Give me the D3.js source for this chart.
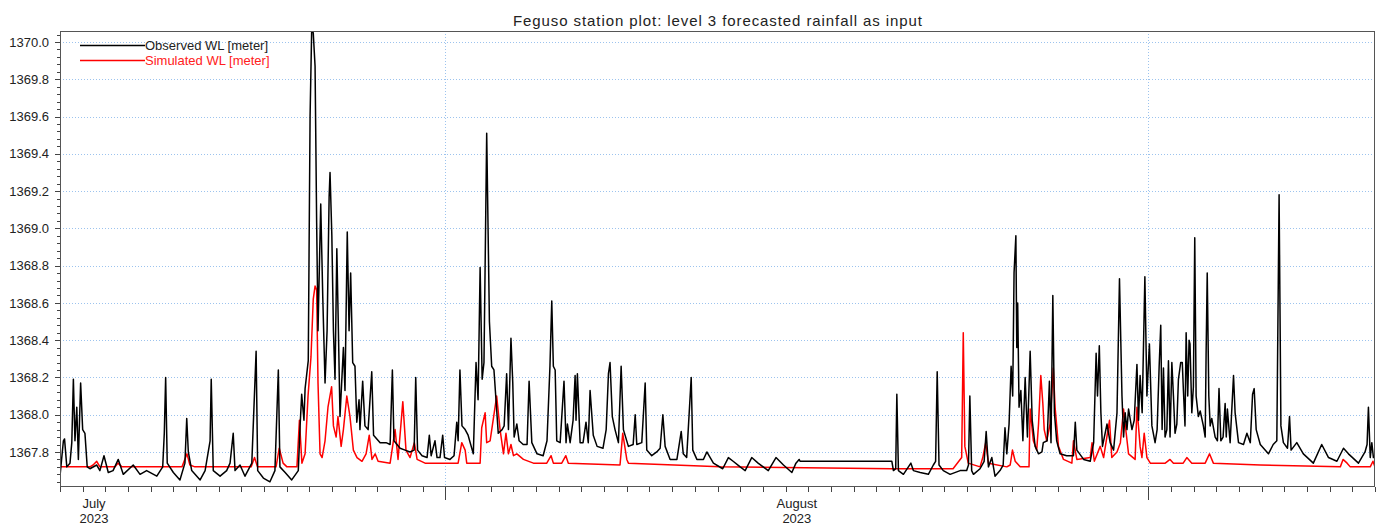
<!DOCTYPE html>
<html lang="en">
<head>
<meta charset="utf-8">
<title>Feguso station plot</title>
<style>
    body { margin: 0; background: #fff; }
    svg { display: block; font-family: "Liberation Sans", Arial, sans-serif; }
    .axis text { font-size: 13px; fill: #222; }
    .axis path { display: none; }
    .axis line { stroke: #444; shape-rendering: crispEdges; }
    .grid line { stroke: #9cc3ee; stroke-dasharray: 1,2; shape-rendering: crispEdges; }
</style>
</head>
<body>
<script src="https://cdn.jsdelivr.net/npm/d3@7"></script>
<script>

  const title = "Feguso station plot: level 3 forecasted rainfall as input";
  const seriesNames = ["Observed WL [meter]", "Simulated WL [meter]"];

  // time axis: days counted from 15 July 2023
  const startDay = Date.UTC(2023, 6, 15);
  const endDay = Date.UTC(2023, 8, 11);
  const monthStarts = [Date.UTC(2023, 7, 1), Date.UTC(2023, 8, 1)];
  const monthLabels = [
      {mid: Date.UTC(2023, 6, 16, 12), name: "July", year: "2023"},
      {mid: Date.UTC(2023, 7, 16, 12), name: "August", year: "2023"}
  ];
  const yTicks = [1367.8, 1368.0, 1368.2, 1368.4, 1368.6, 1368.8,
                  1369.0, 1369.2, 1369.4, 1369.6, 1369.8, 1370.0];
  const yDomain = [1367.612, 1370.059];

  // [day since 15 July, water level in m]
  const observed = [
      [0.00, 1367.67], [0.15, 1367.86], [0.20, 1367.87], [0.30, 1367.72], [0.44, 1367.74],
      [0.52, 1367.85], [0.59, 1368.19], [0.66, 1367.86], [0.74, 1368.04], [0.81, 1367.76],
      [0.91, 1368.17], [1.00, 1367.92], [1.10, 1367.90], [1.20, 1367.72], [1.32, 1367.71],
      [1.62, 1367.73], [1.76, 1367.70], [1.94, 1367.78], [2.13, 1367.69], [2.34, 1367.70],
      [2.57, 1367.76], [2.79, 1367.68], [3.23, 1367.73], [3.53, 1367.68], [3.82, 1367.70],
      [4.27, 1367.67], [4.53, 1367.72], [4.60, 1367.90], [4.66, 1368.20], [4.73, 1367.74],
      [5.00, 1367.69], [5.29, 1367.65], [5.51, 1367.74], [5.59, 1367.98], [5.66, 1367.80],
      [5.81, 1367.70], [6.18, 1367.65], [6.40, 1367.70], [6.62, 1367.86], [6.67, 1368.19],
      [6.76, 1367.70], [7.06, 1367.67], [7.35, 1367.70], [7.50, 1367.74], [7.64, 1367.90],
      [7.72, 1367.70], [7.94, 1367.73], [8.16, 1367.67], [8.46, 1367.74], [8.65, 1368.34],
      [8.72, 1367.70], [8.97, 1367.66], [9.26, 1367.64], [9.48, 1367.70], [9.63, 1368.24],
      [9.70, 1367.72], [9.93, 1367.69], [10.22, 1367.65], [10.51, 1367.70], [10.59, 1367.94],
      [10.66, 1368.11], [10.76, 1367.97], [10.81, 1368.14], [10.95, 1368.29], [11.03, 1369.60],
      [11.10, 1370.06], [11.17, 1370.05], [11.25, 1369.87], [11.32, 1369.03], [11.38, 1368.45],
      [11.50, 1369.13], [11.59, 1368.63], [11.69, 1368.17], [11.78, 1368.45], [11.87, 1369.17],
      [11.91, 1369.30], [11.99, 1368.96], [12.06, 1368.45], [12.13, 1368.19], [12.21, 1368.89],
      [12.28, 1368.45], [12.35, 1367.99], [12.50, 1368.36], [12.57, 1368.13], [12.67, 1368.98],
      [12.75, 1368.45], [12.82, 1368.76], [12.91, 1368.28], [13.01, 1368.26], [13.09, 1367.96],
      [13.19, 1368.08], [13.23, 1367.92], [13.35, 1368.18], [13.45, 1367.94], [13.59, 1367.92],
      [13.75, 1368.23], [13.83, 1367.89], [14.12, 1367.85], [14.38, 1367.85], [14.56, 1367.84],
      [14.66, 1368.24], [14.73, 1367.86], [15.00, 1367.82], [15.22, 1367.81], [15.44, 1367.80],
      [15.62, 1367.81], [15.69, 1368.20], [15.77, 1367.81], [15.97, 1367.78], [16.19, 1367.77],
      [16.29, 1367.89], [16.37, 1367.78], [16.54, 1367.86], [16.63, 1367.77], [16.76, 1367.77],
      [16.88, 1367.89], [16.96, 1367.77], [17.20, 1367.76], [17.38, 1367.78], [17.50, 1367.96],
      [17.56, 1367.86], [17.64, 1368.24], [17.73, 1367.94], [17.87, 1367.92], [18.00, 1367.89],
      [18.23, 1367.79], [18.35, 1368.28], [18.44, 1368.08], [18.53, 1368.79], [18.62, 1368.19],
      [18.70, 1368.28], [18.82, 1369.51], [18.94, 1368.50], [19.04, 1368.26], [19.14, 1368.24],
      [19.23, 1368.08], [19.33, 1367.90], [19.50, 1367.92], [19.59, 1367.94], [19.70, 1368.22],
      [19.78, 1367.92], [19.89, 1368.41], [19.97, 1368.17], [20.03, 1367.88], [20.15, 1367.95],
      [20.25, 1367.86], [20.43, 1367.84], [20.60, 1367.84], [20.69, 1368.18], [20.81, 1367.85],
      [21.04, 1367.79], [21.31, 1367.78], [21.48, 1367.86], [21.61, 1368.26], [21.69, 1368.61],
      [21.76, 1368.26], [21.84, 1368.24], [21.91, 1367.86], [22.06, 1367.85], [22.23, 1368.18],
      [22.32, 1367.85], [22.38, 1367.95], [22.50, 1367.85], [22.63, 1367.97], [22.72, 1368.21],
      [22.76, 1367.97], [22.82, 1368.22], [22.94, 1367.85], [23.07, 1367.85], [23.20, 1367.96],
      [23.30, 1367.85], [23.38, 1368.13], [23.52, 1367.89], [23.69, 1367.83], [23.95, 1367.82],
      [24.09, 1367.92], [24.19, 1368.22], [24.26, 1368.28], [24.36, 1367.99], [24.48, 1367.92],
      [24.63, 1367.85], [24.75, 1368.26], [24.85, 1367.92], [25.07, 1367.83], [25.28, 1367.84],
      [25.37, 1368.00], [25.44, 1367.84], [25.66, 1367.85], [25.81, 1368.17], [25.88, 1367.81],
      [26.10, 1367.78], [26.32, 1367.80], [26.47, 1367.82], [26.59, 1368.00], [26.69, 1367.83],
      [26.91, 1367.76], [27.21, 1367.76], [27.40, 1367.91], [27.49, 1367.79], [27.64, 1367.77],
      [27.84, 1368.20], [27.91, 1367.81], [28.09, 1367.76], [28.38, 1367.76], [28.53, 1367.80],
      [28.82, 1367.74], [29.23, 1367.71], [29.48, 1367.77], [29.69, 1367.75], [30.00, 1367.72],
      [30.22, 1367.70], [30.51, 1367.77], [30.79, 1367.74], [31.24, 1367.70], [31.58, 1367.77],
      [31.91, 1367.73], [32.28, 1367.69], [32.46, 1367.74], [32.60, 1367.76], [32.64, 1367.75],
      [36.69, 1367.75], [36.76, 1367.70], [36.86, 1367.71], [36.91, 1368.11], [36.98, 1367.70],
      [37.20, 1367.68], [37.53, 1367.74], [37.64, 1367.70], [37.94, 1367.69], [38.30, 1367.68],
      [38.52, 1367.73], [38.62, 1367.75], [38.69, 1368.23], [38.77, 1367.73], [38.96, 1367.70],
      [39.26, 1367.68], [39.70, 1367.70], [39.99, 1367.70], [40.07, 1367.73], [40.13, 1368.10],
      [40.21, 1367.70], [40.29, 1367.68], [40.58, 1367.71], [40.76, 1367.75], [40.85, 1367.91],
      [40.95, 1367.72], [41.10, 1367.77], [41.24, 1367.67], [41.46, 1367.70], [41.60, 1367.73],
      [41.68, 1367.93], [41.76, 1367.79], [41.86, 1367.95], [41.95, 1368.26], [42.02, 1368.10],
      [42.08, 1368.76], [42.16, 1368.96], [42.20, 1368.36], [42.24, 1368.60], [42.30, 1368.04],
      [42.38, 1368.13], [42.47, 1367.86], [42.57, 1368.20], [42.67, 1367.88], [42.79, 1368.34],
      [42.88, 1367.97], [43.01, 1367.83], [43.16, 1367.79], [43.31, 1367.80], [43.37, 1367.85],
      [43.54, 1367.86], [43.64, 1368.18], [43.71, 1367.85], [43.79, 1368.64], [43.86, 1368.01],
      [43.96, 1367.86], [44.11, 1367.79], [44.40, 1367.78], [44.70, 1367.78], [44.78, 1367.96],
      [44.85, 1367.81], [45.15, 1367.76], [45.44, 1367.75], [45.59, 1367.85], [45.70, 1368.33],
      [45.76, 1368.10], [45.84, 1368.37], [45.91, 1368.01], [45.98, 1367.83], [46.18, 1367.95],
      [46.32, 1367.85], [46.47, 1367.81], [46.62, 1368.01], [46.73, 1368.73], [46.84, 1368.10],
      [46.91, 1367.88], [46.98, 1368.01], [47.06, 1367.92], [47.13, 1368.03], [47.28, 1367.92],
      [47.38, 1367.97], [47.50, 1368.27], [47.57, 1367.97], [47.64, 1368.21], [47.73, 1368.01],
      [47.85, 1368.74], [47.94, 1368.10], [48.05, 1368.38], [48.16, 1367.94], [48.30, 1367.85],
      [48.39, 1367.92], [48.48, 1368.26], [48.55, 1368.48], [48.61, 1367.92], [48.67, 1368.25],
      [48.74, 1367.88], [48.82, 1367.92], [48.89, 1368.29], [48.96, 1367.88], [49.04, 1368.28],
      [49.11, 1368.10], [49.18, 1367.90], [49.26, 1367.95], [49.33, 1368.19], [49.43, 1368.28],
      [49.50, 1368.28], [49.55, 1368.13], [49.62, 1367.94], [49.67, 1368.44], [49.74, 1368.10],
      [49.80, 1368.40], [49.84, 1368.38], [49.92, 1368.01], [49.99, 1368.15], [50.05, 1368.95],
      [50.11, 1368.10], [50.21, 1367.99], [50.29, 1368.02], [50.43, 1367.94], [50.51, 1367.88],
      [50.55, 1368.32], [50.60, 1368.76], [50.67, 1368.10], [50.73, 1367.94], [50.80, 1367.98],
      [50.95, 1367.88], [51.05, 1367.86], [51.12, 1368.14], [51.20, 1367.86], [51.30, 1367.88],
      [51.39, 1368.06], [51.44, 1367.88], [51.49, 1368.03], [51.61, 1367.85], [51.76, 1368.21],
      [51.83, 1368.01], [51.98, 1367.85], [52.20, 1367.84], [52.35, 1367.90], [52.50, 1367.85],
      [52.60, 1368.11], [52.67, 1368.14], [52.76, 1367.92], [52.94, 1367.84], [53.30, 1367.79],
      [53.51, 1367.84], [53.67, 1367.86], [53.77, 1369.18], [53.85, 1367.94], [53.96, 1367.85],
      [54.14, 1367.82], [54.23, 1367.99], [54.30, 1367.81], [54.55, 1367.85], [54.84, 1367.79],
      [55.28, 1367.74], [55.65, 1367.84], [55.95, 1367.77], [56.32, 1367.75], [56.61, 1367.82],
      [56.83, 1367.79], [57.27, 1367.74], [57.56, 1367.80], [57.65, 1367.84], [57.71, 1368.04],
      [57.79, 1367.77], [57.86, 1367.85], [57.93, 1367.77], [58.00, 1367.77]
  ];

  const simulated = [
      [0.00, 1367.72], [1.32, 1367.72], [1.46, 1367.73], [1.62, 1367.75], [1.76, 1367.72],
      [2.43, 1367.72], [2.56, 1367.74], [2.73, 1367.72], [5.38, 1367.72], [5.60, 1367.79],
      [5.73, 1367.73], [5.95, 1367.72], [8.43, 1367.72], [8.58, 1367.77], [8.71, 1367.72],
      [9.53, 1367.72], [9.67, 1367.82], [9.84, 1367.74], [10.01, 1367.72], [10.45, 1367.72],
      [10.56, 1367.97], [10.67, 1367.74], [10.81, 1367.79], [10.94, 1368.10], [11.07, 1368.31],
      [11.17, 1368.62], [11.25, 1368.69], [11.32, 1368.67], [11.38, 1368.17], [11.47, 1367.79],
      [11.56, 1367.77], [11.69, 1367.86], [11.82, 1368.04], [11.98, 1368.15], [12.06, 1367.94],
      [12.18, 1367.88], [12.26, 1367.99], [12.40, 1367.83], [12.50, 1367.92], [12.65, 1368.10],
      [12.79, 1367.99], [12.94, 1367.81], [13.10, 1367.77], [13.32, 1367.75], [13.50, 1367.79],
      [13.64, 1367.89], [13.76, 1367.76], [13.90, 1367.79], [14.03, 1367.75], [14.56, 1367.74],
      [14.78, 1367.92], [14.91, 1367.76], [15.12, 1368.07], [15.26, 1367.81], [15.44, 1367.77],
      [15.63, 1367.85], [15.75, 1367.76], [16.10, 1367.74], [17.56, 1367.74], [17.72, 1367.85],
      [17.87, 1367.81], [17.94, 1367.74], [18.53, 1367.74], [18.60, 1367.93], [18.75, 1368.01],
      [18.82, 1367.85], [18.97, 1367.86], [19.26, 1368.10], [19.41, 1367.92], [19.56, 1367.79],
      [19.67, 1367.90], [19.78, 1367.79], [19.89, 1367.84], [20.00, 1367.78], [20.15, 1367.79],
      [20.44, 1367.76], [20.88, 1367.74], [21.47, 1367.74], [21.66, 1367.78], [21.76, 1367.74],
      [22.13, 1367.74], [22.31, 1367.78], [22.42, 1367.74], [24.70, 1367.73], [24.82, 1367.90],
      [25.00, 1367.76], [25.07, 1367.74], [29.11, 1367.72], [36.69, 1367.71], [39.39, 1367.71],
      [39.77, 1367.77], [39.84, 1368.44], [39.91, 1367.83], [40.06, 1367.74], [40.58, 1367.72],
      [40.70, 1367.77], [40.83, 1367.85], [40.95, 1367.74], [41.76, 1367.72], [41.91, 1367.73],
      [42.01, 1367.81], [42.13, 1367.75], [42.35, 1367.72], [42.74, 1367.72], [42.79, 1368.03],
      [42.93, 1367.86], [43.08, 1367.81], [43.16, 1367.95], [43.26, 1368.21], [43.35, 1368.06],
      [43.41, 1367.92], [43.52, 1367.86], [43.67, 1367.95], [43.81, 1368.25], [43.89, 1368.04],
      [44.04, 1367.83], [44.26, 1367.76], [44.63, 1367.74], [44.70, 1367.86], [44.85, 1367.76],
      [45.44, 1367.77], [45.52, 1367.85], [45.62, 1367.75], [45.88, 1367.83], [46.03, 1367.77],
      [46.29, 1367.97], [46.39, 1367.77], [46.62, 1367.80], [46.77, 1367.85], [46.91, 1368.03],
      [46.98, 1367.95], [47.13, 1367.79], [47.42, 1367.76], [47.50, 1368.04], [47.64, 1367.83],
      [47.72, 1367.77], [47.82, 1367.90], [47.94, 1367.77], [48.09, 1367.74], [48.75, 1367.74],
      [48.96, 1367.76], [49.11, 1367.74], [49.54, 1367.74], [49.70, 1367.77], [49.92, 1367.74],
      [50.51, 1367.74], [50.70, 1367.79], [50.87, 1367.74], [52.94, 1367.73], [56.47, 1367.72],
      [56.59, 1367.76], [56.77, 1367.74], [56.91, 1367.72], [57.79, 1367.72], [57.91, 1367.75],
      [58.00, 1367.72]
  ];

  const width = 1380, height = 527;
  const plotLeft = 60, plotRight = 1375, plotTop = 31, plotBottom = 487;

  const x = d3.scaleUtc().domain([new Date(startDay), new Date(endDay)]).range([plotLeft, plotRight]);
  const y = d3.scaleLinear().domain(yDomain).range([plotBottom, plotTop]);
  const toDate = d => new Date(startDay + d * 864e5);

  const svg = d3.select("body").append("svg")
      .attr("width", width)
      .attr("height", height);

  svg.append("rect").attr("width", width).attr("height", height).attr("fill", "#fff");

  // grid
  const grid = svg.append("g").attr("class", "grid");
  grid.selectAll(".gy").data(yTicks).enter().append("line")
      .attr("x1", plotLeft).attr("x2", plotRight)
      .attr("y1", d => Math.round(y(d)) + 0.5).attr("y2", d => Math.round(y(d)) + 0.5);
  grid.selectAll(".gx").data(monthStarts).enter().append("line")
      .attr("x1", d => Math.round(x(new Date(d))) + 0.5).attr("x2", d => Math.round(x(new Date(d))) + 0.5)
      .attr("y1", plotTop).attr("y2", plotBottom);

  // series
  svg.append("clipPath").attr("id", "plotclip")
      .append("rect").attr("x", plotLeft).attr("y", plotTop)
      .attr("width", plotRight - plotLeft).attr("height", plotBottom - plotTop);

  const line = d3.line()
      .x(p => x(toDate(p[0])))
      .y(p => y(p[1]));

  const plot = svg.append("g").attr("clip-path", "url(#plotclip)");
  plot.append("path").datum(simulated)
      .attr("fill", "none").attr("stroke", "#ff0000").attr("stroke-width", 1.5)
      .attr("stroke-linejoin", "round").attr("d", line);
  plot.append("path").datum(observed)
      .attr("fill", "none").attr("stroke", "#000").attr("stroke-width", 1.5)
      .attr("stroke-linejoin", "round").attr("d", line);

  // y axis with minor ticks
  const yMinor = d3.range(1367.64, 1370.05, 0.04).filter(v => yTicks.every(t => Math.abs(t - v) > 0.005));
  svg.append("g").attr("class", "axis")
      .attr("transform", "translate(" + plotLeft + ",0)")
      .call(d3.axisLeft(y).tickValues(yMinor).tickSize(3).tickFormat(""));
  svg.append("g").attr("class", "axis")
      .attr("transform", "translate(" + plotLeft + ",0)")
      .call(d3.axisLeft(y).tickValues(yTicks).tickSize(5).tickPadding(6).tickFormat(d3.format(".1f")));

  // x axis: day ticks and longer month ticks
  svg.append("g").attr("class", "axis")
      .attr("transform", "translate(0," + plotBottom + ")")
      .call(d3.axisBottom(x).ticks(d3.utcDay.every(1)).tickSize(5).tickFormat(""));
  svg.append("g").attr("class", "axis")
      .attr("transform", "translate(0," + plotBottom + ")")
      .call(d3.axisBottom(x).tickValues(monthStarts.map(d => new Date(d))).tickSize(13).tickFormat(""));

  const ml = svg.append("g").attr("class", "axis");
  ml.selectAll(".mname").data(monthLabels).enter().append("text")
      .attr("x", d => x(new Date(d.mid))).attr("y", 508)
      .attr("text-anchor", "middle").text(d => d.name);
  ml.selectAll(".myear").data(monthLabels).enter().append("text")
      .attr("x", d => x(new Date(d.mid))).attr("y", 523)
      .attr("text-anchor", "middle").text(d => d.year);

  // frame
  svg.append("rect")
      .attr("x", plotLeft + 0.5).attr("y", plotTop + 0.5)
      .attr("width", plotRight - plotLeft - 1).attr("height", plotBottom - plotTop - 1)
      .attr("fill", "none").attr("stroke", "#555").attr("shape-rendering", "crispEdges");

  // title
  svg.append("text")
      .attr("x", (plotLeft + plotRight) / 2).attr("y", 26)
      .attr("text-anchor", "middle")
      .attr("textLength", 409).attr("lengthAdjust", "spacing")
      .style("font-size", "15px").style("fill", "#222")
      .text(title);

  // legend
  const legend = svg.append("g");
  const legendColors = ["#000", "#ff0000"];
  const legendText = ["#222", "#ff2020"];
  seriesNames.forEach(function (name, i) {
      const ly = 45.5 + i * 15;
      legend.append("line")
          .attr("x1", 80).attr("x2", 145).attr("y1", ly).attr("y2", ly)
          .attr("stroke", legendColors[i]).attr("stroke-width", 1.5);
      legend.append("text")
          .attr("x", 145).attr("y", ly + 4.5)
          .style("font-size", "13px").style("fill", legendText[i])
          .text(name);
  });

</script>
</body>
</html>
